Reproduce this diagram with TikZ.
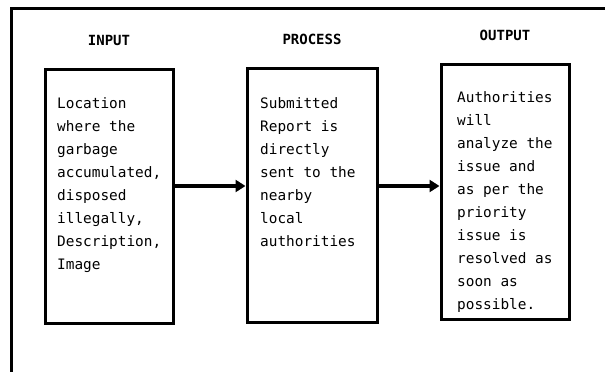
\documentclass[tikz,border=0pt]{standalone}
\usepackage{fontspec}
\setmonofont{DejaVu Sans Mono}
\usetikzlibrary{arrows.meta, positioning}

\begin{document}
\begin{tikzpicture}[x=1pt, y=-1pt,
    stage/.style={draw, line width=3pt, minimum width=128pt, minimum height=254pt, inner sep=0pt},
    heading/.style={font=\ttfamily\bfseries\fontsize{14}{16}\selectfont},
    body/.style={font=\ttfamily\fontsize{14.4}{23}\selectfont, align=left, anchor=north west, inner sep=0pt},
    flow/.style={line width=3.5pt, -{Triangle[length=10pt,width=12pt]}}]
    \useasboundingbox (0,0) rectangle (605,372);
    % frame
    \draw[line width=3pt] (605,8) -- (11,8) -- (11,372);

    \node[stage] (inbox) at (109,196) {};
    \node[stage, minimum width=130pt] (procbox) at (312,195) {};
    \node[stage, minimum height=255pt] (outbox) at (505,191.5) {};

    \node[heading, above=18pt of inbox] (inhead) {INPUT};
    \node[heading, above=18pt of procbox] (prochead) {PROCESS};
    \node[heading, above=18pt of outbox] (outhead) {OUTPUT};

    \node[body] (intext) at (57,97) {Location\\where the\\garbage\\accumulated,\\disposed\\illegally,\\Description,\\Image};
    \node[body] (proctext) at (260,97) {Submitted\\Report is\\directly\\sent to the\\nearby\\local\\authorities};
    \node[body] (outtext) at (457,91) {Authorities\\will\\analyze the\\issue and\\as per the\\priority\\issue is\\resolved as\\soon as\\possible.};

    \draw[flow] ([yshift=10pt]inbox.east) -- ([yshift=10pt]inbox.east -| procbox.west);
    \draw[flow] ([yshift=9pt]procbox.east) -- ([yshift=9pt]procbox.east -| outbox.west);
\end{tikzpicture}
\end{document}
